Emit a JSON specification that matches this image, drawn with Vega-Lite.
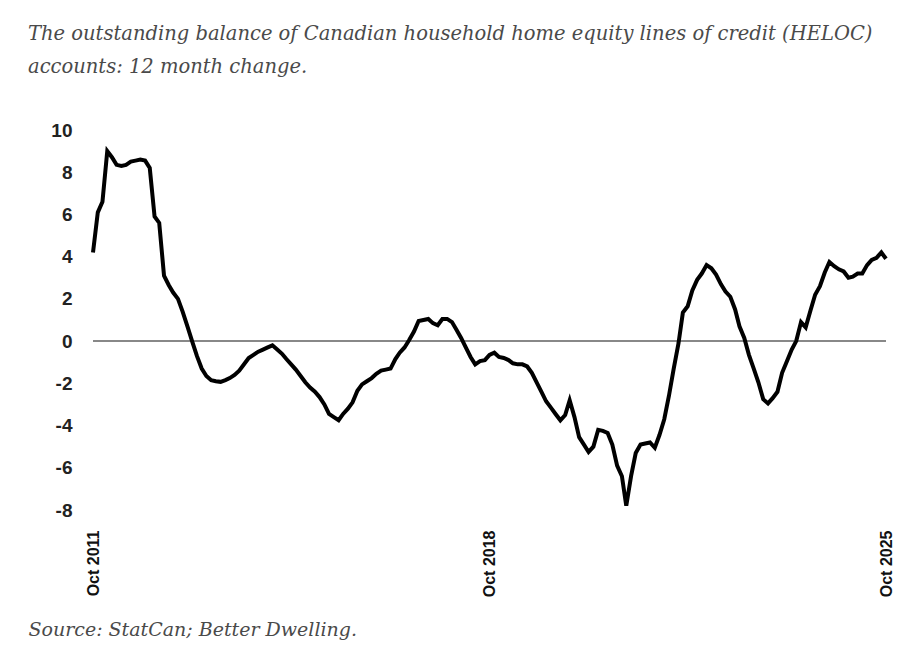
{
  "$schema": "https://vega.github.io/schema/vega-lite/v6.json",
  "width": 793,
  "height": 380,
  "autosize": {"type": "none"},
  "padding": {"left": 93, "top": 130, "right": 16, "bottom": 141},
  "background": "white",
  "config": {"view": {"stroke": null}},
  "title": {
    "text": ["The outstanding balance of Canadian household home equity lines of credit (HELOC)", "accounts: 12 month change."],
    "anchor": "start",
    "frame": "group",
    "dx": -65,
    "font": "DejaVu Serif",
    "fontStyle": "italic",
    "fontWeight": "normal",
    "fontSize": 19.5,
    "lineHeight": 33,
    "color": "#4a4a4a",
    "offset": 44
  },
  "data": {"values": [
    {"date":"2011-10-01","v":4.2},{"date":"2011-11-01","v":6.1},{"date":"2011-12-01","v":6.6},
    {"date":"2012-01-01","v":9.0},{"date":"2012-02-01","v":8.7},{"date":"2012-03-01","v":8.35},{"date":"2012-04-01","v":8.3},{"date":"2012-05-01","v":8.35},{"date":"2012-06-01","v":8.5},{"date":"2012-07-01","v":8.55},{"date":"2012-08-01","v":8.6},{"date":"2012-09-01","v":8.55},{"date":"2012-10-01","v":8.2},{"date":"2012-11-01","v":5.9},{"date":"2012-12-01","v":5.6},
    {"date":"2013-01-01","v":3.1},{"date":"2013-02-01","v":2.65},{"date":"2013-03-01","v":2.3},{"date":"2013-04-01","v":2.0},{"date":"2013-05-01","v":1.4},{"date":"2013-06-01","v":0.7},{"date":"2013-07-01","v":0.0},{"date":"2013-08-01","v":-0.7},{"date":"2013-09-01","v":-1.3},{"date":"2013-10-01","v":-1.65},{"date":"2013-11-01","v":-1.85},{"date":"2013-12-01","v":-1.9},
    {"date":"2014-01-01","v":-1.93},{"date":"2014-02-01","v":-1.85},{"date":"2014-03-01","v":-1.75},{"date":"2014-04-01","v":-1.6},{"date":"2014-05-01","v":-1.4},{"date":"2014-06-01","v":-1.1},{"date":"2014-07-01","v":-0.8},{"date":"2014-08-01","v":-0.65},{"date":"2014-09-01","v":-0.5},{"date":"2014-10-01","v":-0.4},{"date":"2014-11-01","v":-0.3},{"date":"2014-12-01","v":-0.2},
    {"date":"2015-01-01","v":-0.4},{"date":"2015-02-01","v":-0.6},{"date":"2015-03-01","v":-0.85},{"date":"2015-04-01","v":-1.1},{"date":"2015-05-01","v":-1.35},{"date":"2015-06-01","v":-1.65},{"date":"2015-07-01","v":-1.95},{"date":"2015-08-01","v":-2.2},{"date":"2015-09-01","v":-2.4},{"date":"2015-10-01","v":-2.65},{"date":"2015-11-01","v":-3.0},{"date":"2015-12-01","v":-3.45},
    {"date":"2016-01-01","v":-3.6},{"date":"2016-02-01","v":-3.75},{"date":"2016-03-01","v":-3.45},{"date":"2016-04-01","v":-3.2},{"date":"2016-05-01","v":-2.9},{"date":"2016-06-01","v":-2.35},{"date":"2016-07-01","v":-2.05},{"date":"2016-08-01","v":-1.9},{"date":"2016-09-01","v":-1.75},{"date":"2016-10-01","v":-1.55},{"date":"2016-11-01","v":-1.4},{"date":"2016-12-01","v":-1.35},
    {"date":"2017-01-01","v":-1.3},{"date":"2017-02-01","v":-0.85},{"date":"2017-03-01","v":-0.55},{"date":"2017-04-01","v":-0.3},{"date":"2017-05-01","v":0.05},{"date":"2017-06-01","v":0.45},{"date":"2017-07-01","v":0.95},{"date":"2017-08-01","v":1.0},{"date":"2017-09-01","v":1.05},{"date":"2017-10-01","v":0.85},{"date":"2017-11-01","v":0.75},{"date":"2017-12-01","v":1.05},
    {"date":"2018-01-01","v":1.05},{"date":"2018-02-01","v":0.9},{"date":"2018-03-01","v":0.55},{"date":"2018-04-01","v":0.15},{"date":"2018-05-01","v":-0.3},{"date":"2018-06-01","v":-0.75},{"date":"2018-07-01","v":-1.1},{"date":"2018-08-01","v":-0.95},{"date":"2018-09-01","v":-0.9},{"date":"2018-10-01","v":-0.65},{"date":"2018-11-01","v":-0.55},{"date":"2018-12-01","v":-0.75},
    {"date":"2019-01-01","v":-0.8},{"date":"2019-02-01","v":-0.9},{"date":"2019-03-01","v":-1.05},{"date":"2019-04-01","v":-1.1},{"date":"2019-05-01","v":-1.1},{"date":"2019-06-01","v":-1.2},{"date":"2019-07-01","v":-1.5},{"date":"2019-08-01","v":-1.95},{"date":"2019-09-01","v":-2.4},{"date":"2019-10-01","v":-2.85},{"date":"2019-11-01","v":-3.15},{"date":"2019-12-01","v":-3.45},
    {"date":"2020-01-01","v":-3.75},{"date":"2020-02-01","v":-3.5},{"date":"2020-03-01","v":-2.8},{"date":"2020-04-01","v":-3.6},{"date":"2020-05-01","v":-4.55},{"date":"2020-06-01","v":-4.9},{"date":"2020-07-01","v":-5.25},{"date":"2020-08-01","v":-5.0},{"date":"2020-09-01","v":-4.2},{"date":"2020-10-01","v":-4.25},{"date":"2020-11-01","v":-4.35},{"date":"2020-12-01","v":-4.9},
    {"date":"2021-01-01","v":-5.9},{"date":"2021-02-01","v":-6.4},{"date":"2021-03-01","v":-7.8},{"date":"2021-04-01","v":-6.4},{"date":"2021-05-01","v":-5.3},{"date":"2021-06-01","v":-4.9},{"date":"2021-07-01","v":-4.85},{"date":"2021-08-01","v":-4.8},{"date":"2021-09-01","v":-5.05},{"date":"2021-10-01","v":-4.45},{"date":"2021-11-01","v":-3.7},{"date":"2021-12-01","v":-2.6},
    {"date":"2022-01-01","v":-1.3},{"date":"2022-02-01","v":-0.1},{"date":"2022-03-01","v":1.35},{"date":"2022-04-01","v":1.65},{"date":"2022-05-01","v":2.4},{"date":"2022-06-01","v":2.9},{"date":"2022-07-01","v":3.2},{"date":"2022-08-01","v":3.6},{"date":"2022-09-01","v":3.45},{"date":"2022-10-01","v":3.15},{"date":"2022-11-01","v":2.7},{"date":"2022-12-01","v":2.35},
    {"date":"2023-01-01","v":2.1},{"date":"2023-02-01","v":1.5},{"date":"2023-03-01","v":0.7},{"date":"2023-04-01","v":0.15},{"date":"2023-05-01","v":-0.65},{"date":"2023-06-01","v":-1.3},{"date":"2023-07-01","v":-1.95},{"date":"2023-08-01","v":-2.75},{"date":"2023-09-01","v":-2.95},{"date":"2023-10-01","v":-2.7},{"date":"2023-11-01","v":-2.4},{"date":"2023-12-01","v":-1.5},
    {"date":"2024-01-01","v":-0.95},{"date":"2024-02-01","v":-0.4},{"date":"2024-03-01","v":0.0},{"date":"2024-04-01","v":0.9},{"date":"2024-05-01","v":0.65},{"date":"2024-06-01","v":1.45},{"date":"2024-07-01","v":2.2},{"date":"2024-08-01","v":2.6},{"date":"2024-09-01","v":3.25},{"date":"2024-10-01","v":3.75},{"date":"2024-11-01","v":3.55},{"date":"2024-12-01","v":3.4},
    {"date":"2025-01-01","v":3.3},{"date":"2025-02-01","v":3.0},{"date":"2025-03-01","v":3.05},{"date":"2025-04-01","v":3.2},{"date":"2025-05-01","v":3.2},{"date":"2025-06-01","v":3.6},{"date":"2025-07-01","v":3.85},{"date":"2025-08-01","v":3.95},{"date":"2025-09-01","v":4.2},{"date":"2025-10-01","v":3.9}
  ]},
  "encoding": {
    "x": {
      "field": "date",
      "type": "temporal",
      "scale": {"type": "utc", "domain": [{"year": 2011, "month": 10, "date": 1, "utc": true}, {"year": 2025, "month": 10, "date": 1, "utc": true}]},
      "axis": {
        "values": [{"year": 2011, "month": 10, "date": 1, "utc": true}, {"year": 2018, "month": 10, "date": 1, "utc": true}, {"year": 2025, "month": 10, "date": 1, "utc": true}],
        "format": "%b %Y",
        "labelAngle": -90,
        "labelAlign": "right",
        "labelBaseline": "middle",
        "labelPadding": 20,
        "labelFont": "Liberation Sans",
        "labelFontWeight": "bold",
        "labelFontSize": 16,
        "labelColor": "#111111",
        "labelFlush": false,
        "labelOverlap": false,
        "labelBound": false,
        "ticks": false,
        "domain": false,
        "grid": false,
        "title": "Source: StatCan; Better Dwelling.",
        "titleFont": "DejaVu Serif",
        "titleFontStyle": "italic",
        "titleFontWeight": "normal",
        "titleFontSize": 19,
        "titleColor": "#4a4a4a",
        "titleAlign": "left",
        "titleAnchor": "start",
        "titleBaseline": "alphabetic",
        "titleAngle": 0,
        "titleX": -65,
        "titleY": 125
      }
    },
    "y": {
      "field": "v",
      "type": "quantitative",
      "scale": {"domain": [-8, 10], "nice": false, "zero": false},
      "axis": {
        "values": [-8, -6, -4, -2, 0, 2, 4, 6, 8, 10],
        "labelExpr": "'' + datum.value",
        "labelFont": "Liberation Sans",
        "labelFontWeight": "bold",
        "labelFontSize": 19,
        "labelColor": "#222222",
        "labelPadding": 21,
        "ticks": false,
        "domain": false,
        "grid": false,
        "title": null
      }
    }
  },
  "layer": [
    {
      "mark": {"type": "rule", "color": "#888888", "strokeWidth": 1.5},
      "encoding": {"y": {"datum": 0}, "x": null}
    },
    {
      "mark": {"type": "line", "color": "#000000", "strokeWidth": 4, "strokeJoin": "miter"}
    }
  ]
}
